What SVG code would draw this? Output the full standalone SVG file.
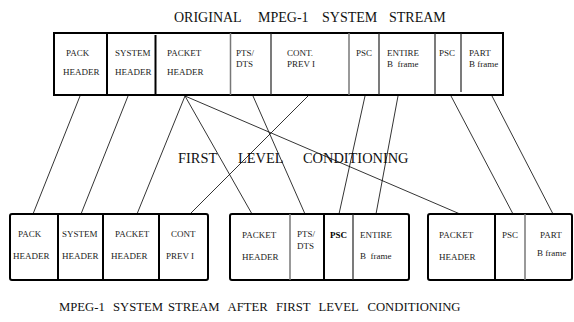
<svg xmlns="http://www.w3.org/2000/svg" width="574" height="322" viewBox="0 0 574 322">
<style>
.t{font-family:"Liberation Serif","Times New Roman",serif;font-size:9px;fill:#222}
.ttl{font-family:"Liberation Serif","Times New Roman",serif;font-size:14px;fill:#111}
.box{fill:#fff;stroke:#000;stroke-width:2}
.dk{stroke:#000;stroke-width:2}
.md{stroke:#222;stroke-width:1.2}
.gr{stroke:#777;stroke-width:1.5}
.cn line{stroke:#000;stroke-width:0.8}
</style>
<rect width="574" height="322" fill="#fff"/>
<text class="ttl" y="22"><tspan x="174">ORIGINAL</tspan><tspan x="258">MPEG-1</tspan><tspan x="322">SYSTEM</tspan><tspan x="389">STREAM</tspan></text>
<text class="ttl" y="163" style="font-size:14.4px"><tspan x="178">FIRST</tspan><tspan x="238">LEVEL</tspan><tspan x="303">CONDITIONING</tspan></text>
<text class="ttl" y="311" style="font-size:12.7px"><tspan x="59">MPEG-1</tspan><tspan x="113">SYSTEM</tspan><tspan x="168">STREAM</tspan><tspan x="227.5">AFTER</tspan><tspan x="276">FIRST</tspan><tspan x="318.5">LEVEL</tspan><tspan x="367.5">CONDITIONING</tspan></text>

<g id="original-stream">
<rect class="box" x="54" y="33" width="449" height="62"/>
<line class="dk" x1="107" y1="33" x2="107" y2="95"/>
<line class="dk" x1="155.5" y1="35" x2="155.5" y2="95"/>
<line class="gr" x1="230.5" y1="33" x2="230.5" y2="95"/>
<line class="md" x1="271" y1="33" x2="271" y2="95"/>
<line class="gr" x1="349" y1="33" x2="349" y2="95"/>
<line class="md" x1="379" y1="33" x2="379" y2="95"/>
<line class="md" x1="435" y1="33" x2="435" y2="95"/>
<line class="md" x1="461" y1="33" x2="461" y2="92"/>
<text class="t" x="66" y="56">PACK</text><text class="t" x="63" y="75">HEADER</text>
<text class="t" x="115" y="56">SYSTEM</text><text class="t" x="115" y="75">HEADER</text>
<text class="t" x="167" y="56">PACKET</text><text class="t" x="167" y="75">HEADER</text>
<text class="t" x="236" y="56">PTS/</text><text class="t" x="236" y="67">DTS</text>
<text class="t" x="287" y="56">CONT.</text><text class="t" x="287" y="67">PREV I</text>
<text class="t" x="356" y="56">PSC</text>
<text class="t" x="387" y="56">ENTIRE</text><text class="t" x="387" y="67" xml:space="preserve">B  frame</text>
<text class="t" x="439" y="56">PSC</text>
<text class="t" x="469" y="56">PART</text><text class="t" x="469" y="67">B frame</text>
</g>

<g id="group1">
<rect class="box" x="10" y="214" width="198" height="66" rx="2"/>
<line class="dk" x1="58" y1="214" x2="58" y2="280"/>
<line class="dk" x1="103" y1="214" x2="103" y2="280"/>
<line class="dk" x1="159" y1="214" x2="159" y2="280"/>
<text class="t" x="18" y="237">PACK</text><text class="t" x="13" y="259">HEADER</text>
<text class="t" x="62" y="237">SYSTEM</text><text class="t" x="62" y="259">HEADER</text>
<text class="t" x="115" y="237">PACKET</text><text class="t" x="111" y="259">HEADER</text>
<text class="t" x="171" y="237">CONT</text><text class="t" x="166" y="259">PREV I</text>
</g>

<g id="group2">
<rect class="box" x="230" y="214" width="179" height="66" rx="2"/>
<line class="gr" x1="290" y1="214" x2="290" y2="280"/>
<line class="dk" x1="324" y1="214" x2="324" y2="280"/>
<line class="md" x1="353" y1="214" x2="353" y2="280"/>
<text class="t" x="242" y="238">PACKET</text><text class="t" x="242" y="260">HEADER</text>
<text class="t" x="297" y="237">PTS/</text><text class="t" x="297" y="249">DTS</text>
<text class="t" x="330" y="238" style="font-weight:bold;fill:#000">PSC</text>
<text class="t" x="360" y="238">ENTIRE</text><text class="t" x="360" y="259" xml:space="preserve">B  frame</text>
</g>

<g id="group3">
<rect class="box" x="428" y="214" width="144" height="66" rx="2"/>
<line class="dk" x1="495" y1="214" x2="495" y2="280"/>
<line class="gr" x1="525" y1="214" x2="525" y2="280"/>
<text class="t" x="439" y="238">PACKET</text><text class="t" x="439" y="260">HEADER</text>
<text class="t" x="502" y="238">PSC</text>
<text class="t" x="540" y="238">PART</text><text class="t" x="537" y="256">B frame</text>
</g>

<g id="connectors" class="cn">
<line x1="80" y1="96" x2="33" y2="214"/>
<line x1="128" y1="96" x2="81" y2="214"/>
<line x1="185" y1="96" x2="137" y2="214"/>
<line x1="185" y1="96" x2="252" y2="214"/>
<line x1="185" y1="96" x2="460" y2="214"/>
<line x1="253" y1="96" x2="305" y2="214"/>
<line x1="308" y1="96" x2="190" y2="214"/>
<line x1="365" y1="96" x2="339" y2="214"/>
<line x1="398" y1="96" x2="376" y2="214"/>
<line x1="451" y1="96" x2="513" y2="214"/>
<line x1="492" y1="96" x2="553" y2="214"/>
</g>
</svg>
